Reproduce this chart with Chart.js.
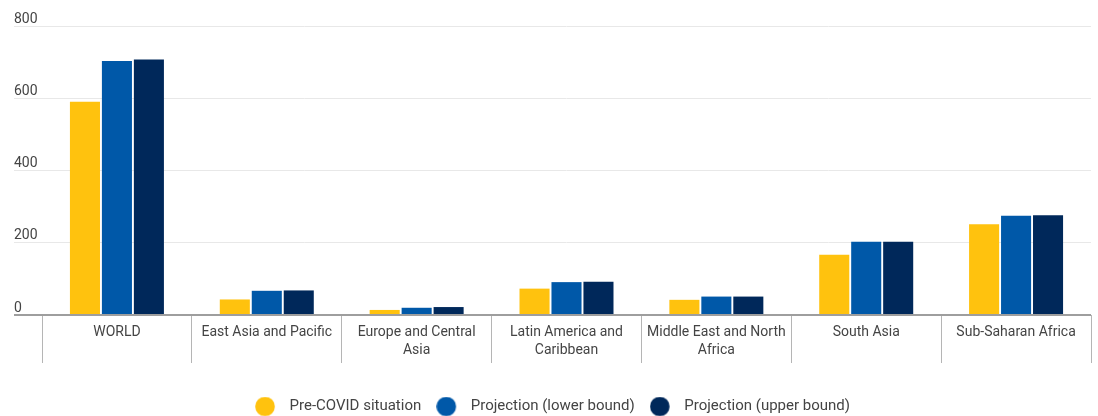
<!DOCTYPE html>
<html>
<head>
<meta charset="utf-8">
<script src="https://cdn.jsdelivr.net/npm/chart.js@4"></script>
<style>
  html, body { margin: 0; padding: 0; background: #fff; }
  #wrap { width: 1098px; height: 416px; position: relative; }
</style>
</head>
<body>
<div id="wrap"><canvas id="povertyChart"></canvas></div>
<script>
// Regions (multi-line labels as arrays)
const regions = [
    'WORLD',
    'East Asia and Pacific',
    ['Europe and Central', 'Asia'],
    ['Latin America and', 'Caribbean'],
    ['Middle East and North', 'Africa'],
    'South Asia',
    'Sub-Saharan Africa'
];

// Values
const preCovid   = [590, 43, 14, 73, 42, 167, 251];
const lowerBound = [703, 67, 20, 91, 51, 203, 275];
const upperBound = [707, 68, 22, 92, 51, 203, 276];

const seriesNames = ['Pre-COVID situation', 'Projection (lower bound)', 'Projection (upper bound)'];
const yTicks = [0, 200, 400, 600, 800];

const colors = ['#ffc20e', '#0058a8', '#00285a'];
const textColor = '#444';

// Legend marker: circle at the left of a wider canvas, so the text sits further away
const legendDot = (color) => {
    const c = document.createElement('canvas');
    c.width = 27; c.height = 20;
    const g = c.getContext('2d');
    g.fillStyle = color;
    g.beginPath();
    g.arc(10, 10, 9.8, 0, Math.PI * 2);
    g.fill();
    return c;
};

const ctx = document.getElementById('povertyChart');
new Chart(ctx, {
    type: 'bar',
    data: {
        labels: regions,
        datasets: [preCovid, lowerBound, upperBound].map((data, i) => ({
            label: seriesNames[i],
            data: data,
            backgroundColor: colors[i],
            borderWidth: 0,
            categoryPercentage: 0.64,
            barPercentage: 0.94
        }))
    },
    options: {
        responsive: true,
        maintainAspectRatio: false,
        animation: false,
        layout: { padding: { left: 14, right: 7, top: 26, bottom: -8 } },
        scales: {
            x: {
                grid: {
                    offset: true,
                    drawOnChartArea: false,
                    drawTicks: true,
                    tickLength: 48,
                    color: '#b5b5b5'
                },
                border: { display: false },
                ticks: {
                    padding: -40,
                    color: textColor,
                    font: { family: 'Roboto', size: 14, lineHeight: 1.3 },
                    maxRotation: 0,
                    autoSkip: false
                },
                afterFit: (scale) => { scale.height = 69; }
            },
            y: {
                min: 0,
                max: 800,
                afterBuildTicks: (scale) => { scale.ticks = yTicks.map(v => ({ value: v })); },
                grid: {
                    drawTicks: true,
                    tickLength: 28,
                    color: (c) => c.tick && c.tick.value === 0 ? '#9e9e9e' : '#e8e8e8',
                    tickColor: (c) => c.tick && c.tick.value === 0 ? '#9e9e9e' : '#e8e8e8',
                    lineWidth: (c) => c.tick && c.tick.value === 0 ? 2 : 1
                },
                border: { display: false },
                ticks: {
                    crossAlign: 'far',
                    padding: 0,
                    labelOffset: -7,
                    color: textColor,
                    font: { family: 'Roboto', size: 14 }
                },
                afterFit: (scale) => { scale.width = 28; }
            }
        },
        plugins: {
            tooltip: { enabled: false },
            legend: {
                position: 'bottom',
                labels: {
                    usePointStyle: true,
                    pointStyleWidth: 27,
                    padding: 15,
                    color: textColor,
                    font: { family: 'Roboto', size: 15 },
                    generateLabels: (chart) => {
                        const items = Chart.defaults.plugins.legend.labels.generateLabels(chart);
                        items.forEach((item, i) => { item.pointStyle = legendDot(colors[i]); });
                        return items;
                    }
                }
            }
        }
    }
});
</script>
</body>
</html>
